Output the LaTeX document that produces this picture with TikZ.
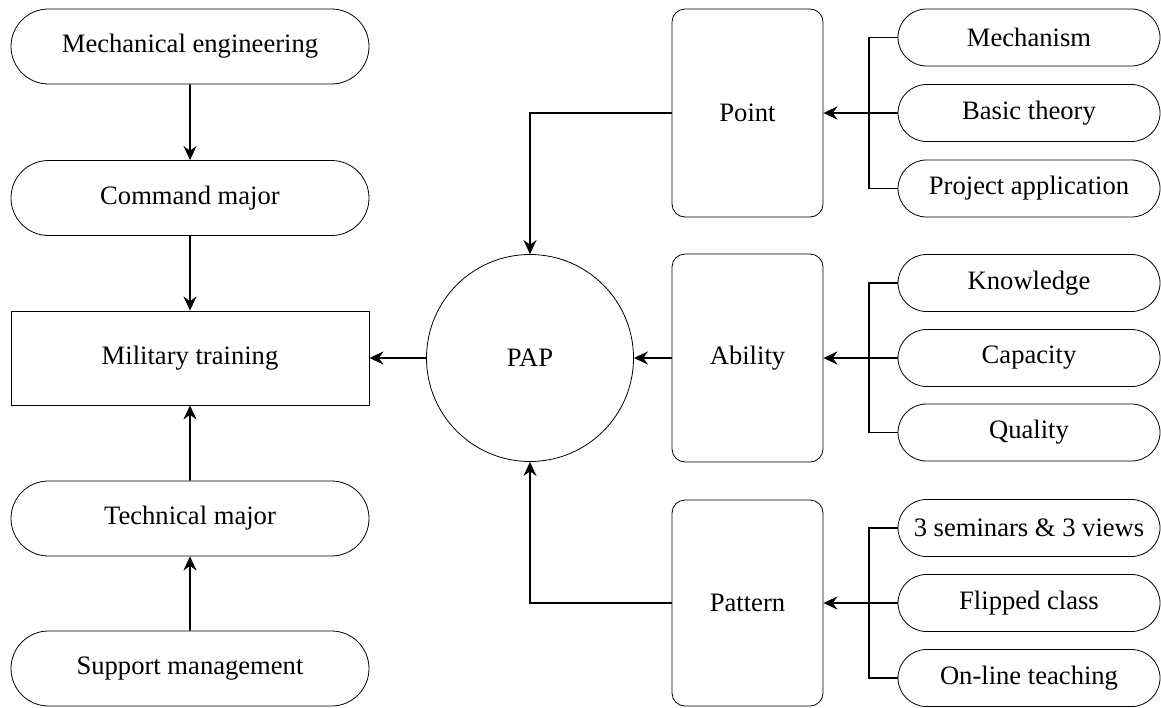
\documentclass[tikz,border=0pt]{standalone}
\usepackage{fontspec}
\setmainfont{LiberationSerif}[Extension=.ttf, UprightFont=*-Regular, BoldFont=*-Bold, ItalicFont=*-Italic, BoldItalicFont=*-BoldItalic]
\usetikzlibrary{shapes.misc, arrows.meta}
\tikzset{
	pill/.style={draw, rounded rectangle, line width=0.8pt, inner sep=0pt, minimum width=358pt, minimum height=75pt},
	smallpill/.style={draw, rounded rectangle, line width=0.8pt, inner sep=0pt, minimum width=262pt, minimum height=57pt},
	plainbox/.style={draw, rectangle, line width=0.8pt, inner sep=0pt, minimum width=358pt, minimum height=94pt},
	groupbox/.style={draw, rectangle, rounded corners=13pt, line width=0.8pt, inner sep=0pt, minimum width=151pt, minimum height=208pt},
	conn/.style={line width=1.8pt},
	arr/.style={conn, -{Stealth[length=14pt, width=13pt]}}
}
\begin{document}
\begin{tikzpicture}[x=1pt, y=-1pt, font=\fontsize{26.6}{30}\selectfont]
		\useasboundingbox (0,0) rectangle (1161,707);

		\node[pill] (mech) at (190, 46.5) {Mechanical engineering};
		\node[pill] (cmd) at (190, 198) {Command major};
		\node[plainbox] (mil) at (190, 358) {Military training};
		\node[pill] (tech) at (190, 518.5) {Technical major};
		\node[pill] (supp) at (190, 668.5) {Support management};

		\node[draw, circle, line width=0.8pt, minimum size=207pt, inner sep=0pt] (pap) at (530, 358) {PAP};

		\node[groupbox] (point) at (747.5, 113) {Point};
		\node[groupbox] (ability) at (747.5, 358) {Ability};
		\node[groupbox, minimum height=206pt] (pattern) at (747.5, 603) {Pattern};

		\node[smallpill] (mechanism) at (1029, 37.5) {Mechanism};
		\node[smallpill] (basic) at (1029, 113) {Basic theory};
		\node[smallpill] (project) at (1029, 188.5) {Project application};

		\node[smallpill] (knowledge) at (1029, 283) {Knowledge};
		\node[smallpill] (capacity) at (1029, 358) {Capacity};
		\node[smallpill] (quality) at (1029, 432.5) {Quality};

		\node[smallpill] (seminars) at (1029, 528) {3 seminars \& 3 views};
		\node[smallpill] (flipped) at (1029, 603) {Flipped class};
		\node[smallpill] (online) at (1029, 678) {On-line teaching};

		\draw[arr] (mech) -- (cmd);
		\draw[arr] (cmd) -- (mil);
		\draw[arr] (tech) -- (mil);
		\draw[arr] (supp) -- (tech);

		\draw[arr] (pap) -- (mil);
		\draw[arr] (ability) -- (pap);
		\draw[arr] (point.west) -| (pap.north);
		\draw[arr] (pattern.west) -| (pap.south);

		\draw[conn] (mechanism.west) -- ++(-29,0) |- (project.west);
		\draw[arr] (basic.west) -- (point.east);

		\draw[conn] (knowledge.west) -- ++(-29,0) |- (quality.west);
		\draw[arr] (capacity.west) -- (ability.east);

		\draw[conn] (seminars.west) -- ++(-29,0) |- (online.west);
		\draw[arr] (flipped.west) -- (pattern.east);
	\end{tikzpicture}
\end{document}
